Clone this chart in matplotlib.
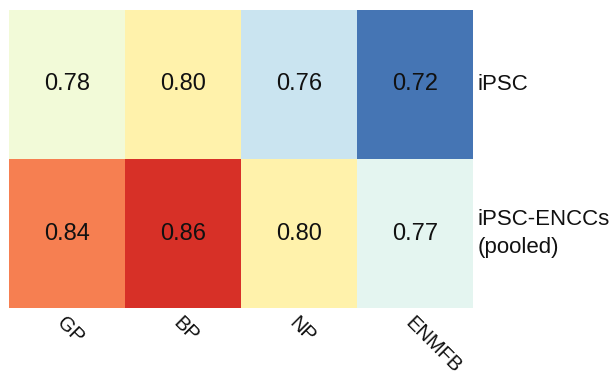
import numpy as np
import matplotlib
matplotlib.use("Agg")
import matplotlib.pyplot as plt
from matplotlib.colors import LinearSegmentedColormap

# Correlation values per cell type and regulatory class
columns = ["GP", "BP", "NP", "ENMFB"]
rows = ["iPSC", "iPSC-ENCCs\n(pooled)"]
ipsc_vals = [0.78, 0.80, 0.76, 0.72]
pooled_vals = [0.84, 0.86, 0.80, 0.77]

values = np.array([ipsc_vals, pooled_vals])

# Blue-to-red diverging ramp (7-step RdYlBu, reversed)
ramp = ["#4575B4", "#91BFDB", "#E0F3F8", "#FFFFBF", "#FEE090", "#FC8D59", "#D73027"]
cmap = LinearSegmentedColormap.from_list("rdylbu7", ramp, N=256)

plt.rcParams["font.family"] = ["Liberation Sans", "DejaVu Sans"]

fig = plt.figure(figsize=(6.11, 3.76), dpi=100)
ax = fig.add_axes([9 / 611, 1 - 308 / 376, (473 - 9) / 611, (308 - 10) / 376])

ax.pcolormesh(values, cmap=cmap, vmin=values.min(), vmax=values.max())
ax.set_xlim(0, len(columns))
ax.set_ylim(len(rows), 0)

for i in range(len(rows)):
    for j in range(len(columns)):
        ax.text(j + 0.5, i + 0.5, f"{values[i, j]:.2f}", ha="center", va="center",
                fontsize=17, color="#111111")

for spine in ax.spines.values():
    spine.set_visible(False)
ax.tick_params(length=0)
ax.set_xticks([])
ax.set_yticks([])

# Row labels on the right
for i, lab in enumerate(rows):
    ax.text(len(columns) + 0.04, i + 0.5, lab, ha="left", va="center",
            fontsize=16, color="#111111", linespacing=1.4)

# Rotated column labels below
for j, lab in enumerate(columns):
    ax.text(j + 0.5, len(rows) + 0.035, lab, ha="left", va="top",
            rotation=-45, rotation_mode="anchor", fontsize=14.5, color="#111111")

fig.savefig("out.png", dpi=100, facecolor="white")
